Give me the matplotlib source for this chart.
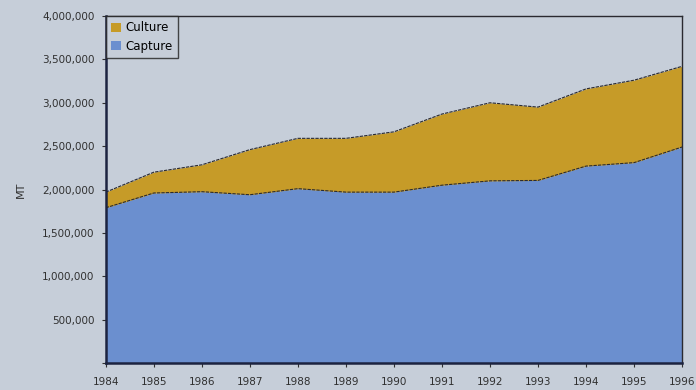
import matplotlib.pyplot as plt
from matplotlib.ticker import FuncFormatter
from matplotlib.patches import Patch

# production in metric tonnes, 1984-1996
years = [1984, 1985, 1986, 1987, 1988, 1989, 1990, 1991, 1992, 1993, 1994, 1995, 1996]
capture = [1790000, 1960000, 1975000, 1940000, 2010000, 1970000, 1970000,
           2050000, 2100000, 2105000, 2270000, 2310000, 2490000]
culture = [180000, 240000, 310000, 520000, 580000, 620000, 695000,
           820000, 900000, 845000, 890000, 950000, 930000]
yticks = [0, 500000, 1000000, 1500000, 2000000, 2500000, 3000000, 3500000, 4000000]

bg = "#c6ced9"
col_capture = "#6b8fcf"
col_culture = "#c69b28"
edge = "#2a2a30"

fig = plt.figure(figsize=(6.96, 3.9), dpi=100, facecolor=bg)
ax = fig.add_axes([0.152, 0.069, 0.828, 0.89], facecolor=bg)

total = [a + b for a, b in zip(capture, culture)]
ax.fill_between(years, 0, capture, color=col_capture, lw=0)
ax.fill_between(years, capture, total, color=col_culture, lw=0)
ax.plot(years, capture, color=edge, lw=0.8, ls=(0, (3, 1)))
ax.plot(years, total, color=edge, lw=0.8, ls=(0, (3, 1)))

ax.set_xlim(years[0], years[-1])
ax.set_ylim(0, 4000000)
ax.set_xticks(years)
ax.set_yticks(yticks)
ax.yaxis.set_major_formatter(FuncFormatter(lambda v, p: "" if v == 0 else f"{int(v):,}"))
ax.tick_params(labelsize=7.5, colors="#303030", length=3, width=0.8)
ax.tick_params(axis="x", pad=7)
ax.tick_params(axis="y", pad=5)
ax.set_ylabel("MT", fontsize=8, color="#303030", labelpad=12)

for side in ("left", "bottom"):
    ax.spines[side].set_linewidth(1.8)
    ax.spines[side].set_color("#1c2340")
for side in ("top", "right"):
    ax.spines[side].set_linewidth(1.0)
    ax.spines[side].set_color("#2a2a30")

handles = [Patch(facecolor=col_culture, edgecolor="none", label="Culture"),
           Patch(facecolor=col_capture, edgecolor="none", label="Capture")]
leg = ax.legend(handles=handles, loc="upper left", fontsize=8.5, frameon=True,
                fancybox=False, handlelength=0.8, handleheight=0.8,
                handletextpad=0.4, borderaxespad=0.0, borderpad=0.45,
                labelspacing=0.45)
leg.get_frame().set_edgecolor("#202020")
leg.get_frame().set_facecolor(bg)
leg.get_frame().set_linewidth(1.0)

fig.savefig("out.png", dpi=100, facecolor=bg)
